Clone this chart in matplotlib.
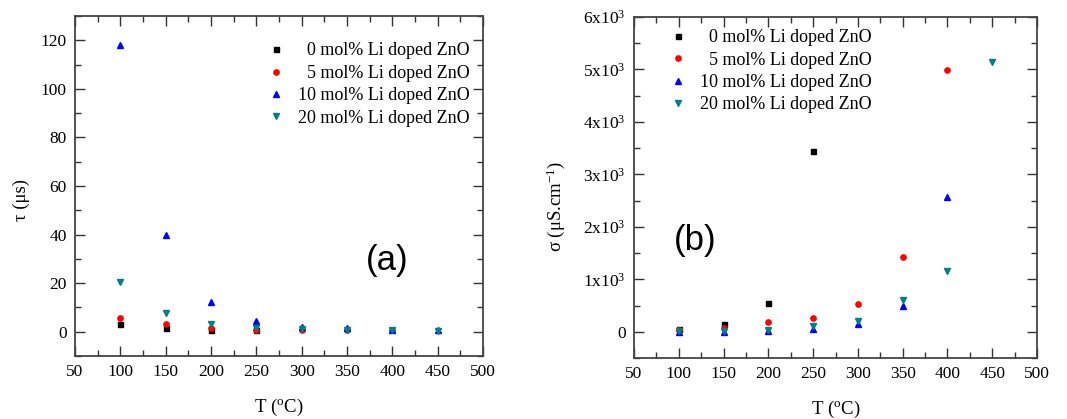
import matplotlib
matplotlib.use("Agg")
import matplotlib.pyplot as plt
from matplotlib.ticker import MultipleLocator, FuncFormatter

plt.rcParams['font.family'] = ['Liberation Serif', 'DejaVu Serif']
plt.rcParams['mathtext.default'] = 'regular'

labels = ["\u20070 mol% Li doped ZnO", "\u20075 mol% Li doped ZnO",
          "10 mol% Li doped ZnO", "20 mol% Li doped ZnO"]
colors = ["#000000", "#ff0000", "#0000ff", "#008080"]
markers = ["s", "o", "^", "v"]
msizes = [3.6, 3.8, 4.6, 4.6]

# Panel (a): relaxation time tau (us)
tau_T = [[100, 150, 200, 250],
         [100, 150, 200, 250, 300, 350, 400],
         [100, 150, 200, 250, 300, 350, 400, 450],
         [100, 150, 200, 250, 300, 350, 400, 450]]
tau_0 = [3.0, 1.4, 0.7, 0.5]
tau_5 = [5.5, 3.0, 1.4, 0.8, 0.7, 0.6, 0.5]
tau_10 = [118.2, 40.0, 12.3, 4.3, 2.0, 1.4, 0.8, 0.8]
tau_20 = [20.4, 7.8, 3.0, 1.4, 1.2, 0.7, 0.6, 0.4]

# Panel (b): conductivity sigma (uS/cm)
sig_T = [[100, 150, 200, 250],
         [100, 150, 200, 250, 300, 350, 400],
         [100, 150, 200, 250, 300, 350, 400],
         [100, 150, 200, 250, 300, 350, 400, 450]]
sig_0 = [57, 146, 545, 3440]
sig_5 = [30, 76, 190, 266, 538, 1417, 4985]
sig_10 = [-5, 0, 13, 51, 146, 488, 2575]
sig_20 = [13, 19, 32, 102, 209, 615, 1155, 5140]

fig = plt.figure(figsize=(10.67, 4.19), dpi=100)
axa = fig.add_axes([0.0703, 0.1504, 0.3824, 0.8114])
axb = fig.add_axes([0.5942, 0.1456, 0.3777, 0.8138])

def style(ax):
    ax.set_xlim(50, 500)
    ax.xaxis.set_major_locator(MultipleLocator(50))
    ax.xaxis.set_minor_locator(MultipleLocator(25))
    ax.tick_params(which='both', direction='in', top=True, right=True,
                   color='#333333', width=1.0, labelsize=12.5, pad=6)
    ax.tick_params(which='major', length=7)
    ax.tick_params(which='minor', length=4)
    for s in ax.spines.values():
        s.set_linewidth(1.3)
        s.set_color('#444444')
    ax.set_xlabel("T ($^{o}$C)", fontsize=13.5, labelpad=12)

tau_sets = [tau_0, tau_5, tau_10, tau_20]
for xs, ys, c, m, ms, lab in zip(tau_T, tau_sets, colors, markers, msizes, labels):
    axa.plot(xs, ys, linestyle='none', marker=m, color=c, ms=ms, label=lab)
style(axa)
axa.set_ylim(-10, 130)
axa.yaxis.set_major_locator(MultipleLocator(20))
axa.yaxis.set_minor_locator(MultipleLocator(10))
axa.set_ylabel("τ (μs)", fontsize=13.5)
axa.yaxis.set_label_coords(-0.11, 0.46)
axa.text(0.765, 0.282, "(a)", transform=axa.transAxes, fontsize=25,
         family='Liberation Sans', ha='center', va='center')
axa.legend(loc='upper right', bbox_to_anchor=(1.008, 0.97), frameon=False,
           fontsize=13, handletextpad=0.75, labelspacing=0.3, handlelength=1.0,
           markerscale=1.0)

sig_sets = [sig_0, sig_5, sig_10, sig_20]
for xs, ys, c, m, ms, lab in zip(sig_T, sig_sets, colors, markers, msizes, labels):
    axb.plot(xs, ys, linestyle='none', marker=m, color=c, ms=ms, label=lab)
style(axb)
axb.set_ylim(-500, 6000)
axb.yaxis.set_major_locator(MultipleLocator(1000))
axb.yaxis.set_minor_locator(MultipleLocator(500))

def sci(v, pos):
    if abs(v) < 1e-9:
        return "0"
    return r"$%dx10^{3}$" % int(round(v / 1000))

axb.yaxis.set_major_formatter(FuncFormatter(sci))
axb.set_ylabel("σ (μS.cm$^{-1}$)", fontsize=13.5)
axb.yaxis.set_label_coords(-0.166, 0.443)
axb.text(0.151, 0.346, "(b)", transform=axb.transAxes, fontsize=25,
         family='Liberation Sans', ha='center', va='center')
axb.legend(loc='upper left', bbox_to_anchor=(0.046, 1.012), frameon=False,
           fontsize=13, handletextpad=0.75, labelspacing=0.3, handlelength=1.0)

fig.savefig("out.png", dpi=100)
